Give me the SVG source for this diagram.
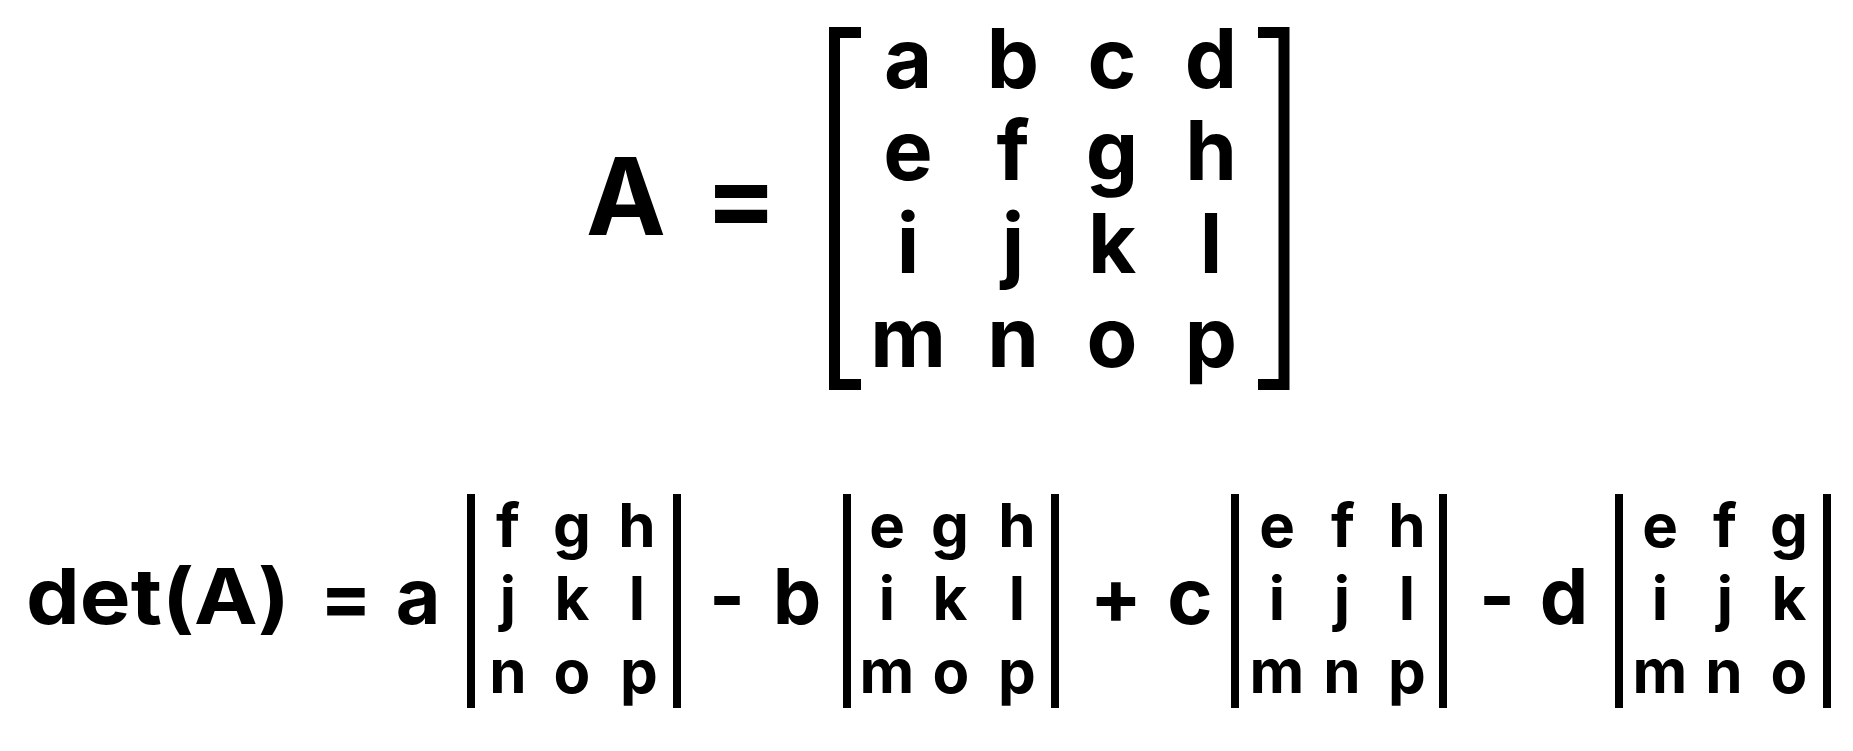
<svg xmlns="http://www.w3.org/2000/svg" width="1853" height="751" viewBox="0 0 1853 751">
<style>
  text { font-family: Inter, "Liberation Sans", "DejaVu Sans", sans-serif; font-weight: 700; fill: #000; text-anchor: middle; }
  .big { font-size: 107px; }
  .mat { font-size: 83px; }
  .row { font-size: 77px; }
  .det { font-size: 60px; }
  .bracket { fill: none; stroke: #000; stroke-width: 11; stroke-linejoin: miter; }
  .bar { fill: #000; }
</style>
<rect x="0" y="0" width="1853" height="751" fill="#fff"/>

<g id="matrix-definition">
  <text class="big" x="626" y="235">A</text>
  <text class="big" x="741" y="235">=</text>
  <path class="bracket" d="M 861 32.5 H 834.5 V 384.5 H 861"/>
  <path class="bracket" d="M 1258 32.5 H 1284 V 384.5 H 1258"/>
  <g class="mat">
    <text class="mat" x="908" y="88">a</text>
    <text class="mat" x="1013" y="88">b</text>
    <text class="mat" x="1112" y="88">c</text>
    <text class="mat" x="1211" y="88">d</text>
    <text class="mat" x="908" y="180">e</text>
    <text class="mat" x="1013" y="180">f</text>
    <text class="mat" x="1112" y="180">g</text>
    <text class="mat" x="1211" y="180">h</text>
    <text class="mat" x="908" y="273">i</text>
    <text class="mat" x="1013" y="273">j</text>
    <text class="mat" x="1112" y="273">k</text>
    <text class="mat" x="1211" y="273">l</text>
    <text class="mat" x="908" y="367">m</text>
    <text class="mat" x="1013" y="367">n</text>
    <text class="mat" x="1112" y="367">o</text>
    <text class="mat" x="1211" y="367">p</text>
  </g>
</g>

<g id="expansion">
  <text class="row" x="158" y="624" textLength="264" lengthAdjust="spacingAndGlyphs">det(A)</text>
  <text class="row" x="346" y="624">=</text>
  <text class="row" x="418" y="624">a</text>
  <text class="row" x="727" y="624">-</text>
  <text class="row" x="797" y="624">b</text>
  <text class="row" x="1116" y="624">+</text>
  <text class="row" x="1190" y="624">c</text>
  <text class="row" x="1497" y="624">-</text>
  <text class="row" x="1564" y="624">d</text>
</g>

<g id="minor-a">
  <rect class="bar" x="467" y="494" width="8" height="214"/>
  <rect class="bar" x="673" y="494" width="8" height="214"/>
  <text class="det" x="508" y="547">f</text>
  <text class="det" x="572" y="547">g</text>
  <text class="det" x="637" y="547">h</text>
  <text class="det" x="508" y="620">j</text>
  <text class="det" x="572" y="620">k</text>
  <text class="det" x="637" y="620">l</text>
  <text class="det" x="508" y="693">n</text>
  <text class="det" x="572" y="693">o</text>
  <text class="det" x="639" y="693">p</text>
</g>

<g id="minor-b">
  <rect class="bar" x="843" y="494" width="8" height="214"/>
  <rect class="bar" x="1051" y="494" width="8" height="214"/>
  <text class="det" x="887" y="547">e</text>
  <text class="det" x="950" y="547">g</text>
  <text class="det" x="1017" y="547">h</text>
  <text class="det" x="887" y="620">i</text>
  <text class="det" x="950" y="620">k</text>
  <text class="det" x="1017" y="620">l</text>
  <text class="det" x="887" y="693">m</text>
  <text class="det" x="951" y="693">o</text>
  <text class="det" x="1017" y="693">p</text>
</g>

<g id="minor-c">
  <rect class="bar" x="1231" y="494" width="8" height="214"/>
  <rect class="bar" x="1439" y="494" width="8" height="214"/>
  <text class="det" x="1277" y="547">e</text>
  <text class="det" x="1343" y="547">f</text>
  <text class="det" x="1407" y="547">h</text>
  <text class="det" x="1277" y="620">i</text>
  <text class="det" x="1342" y="620">j</text>
  <text class="det" x="1407" y="620">l</text>
  <text class="det" x="1277" y="693">m</text>
  <text class="det" x="1342" y="693">n</text>
  <text class="det" x="1407" y="693">p</text>
</g>

<g id="minor-d">
  <rect class="bar" x="1615" y="494" width="8" height="214"/>
  <rect class="bar" x="1823" y="494" width="8" height="214"/>
  <text class="det" x="1660" y="547">e</text>
  <text class="det" x="1725" y="547">f</text>
  <text class="det" x="1789" y="547">g</text>
  <text class="det" x="1660" y="620">i</text>
  <text class="det" x="1725" y="620">j</text>
  <text class="det" x="1789" y="620">k</text>
  <text class="det" x="1660" y="693">m</text>
  <text class="det" x="1724" y="693">n</text>
  <text class="det" x="1789" y="693">o</text>
</g>
</svg>
